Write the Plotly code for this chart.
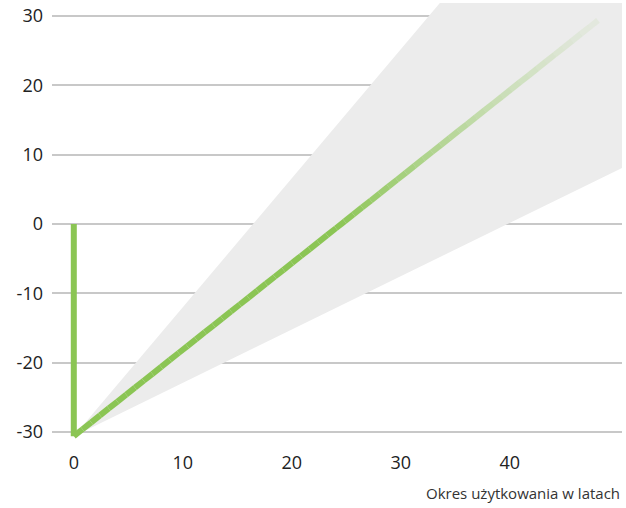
import numpy as np
import plotly.graph_objects as go

# data
line_years = [0, 0, 48.1]
line_values = [0, -30.6, 29.4]
cone_years = [0, 50.3]
cone_upper = [-30.6, 63.0]
cone_lower = [-30.6, 8.1]
x_ticks = [0, 10, 20, 30, 40]
y_ticks = [-30, -20, -10, 0, 10, 20, 30]
y_tick_labels = ["-30", "-20", "-10", "0", "10", "20", "30"]
x_title = "Okres użytkowania w latach"

GREEN = (139, 197, 84)

fig = go.Figure()

# uncertainty cone
fig.add_trace(go.Scatter(
    x=cone_years + cone_years[::-1],
    y=cone_upper + cone_lower[::-1],
    fill="toself", fillcolor="rgb(236,236,236)",
    line=dict(width=0), mode="lines", hoverinfo="skip", showlegend=False,
))

# vertical initial investment segment
fig.add_trace(go.Scatter(
    x=line_years[:2], y=line_values[:2], mode="lines",
    line=dict(color="rgb(%d,%d,%d)" % GREEN, width=6),
    showlegend=False,
))

# diagonal segment with fading toward the end
x0, x1 = line_years[1], line_years[2]
y0, y1 = line_values[1], line_values[2]
n = 60
ts = np.linspace(0, 1, n + 1)
fade_start = 0.5
for i in range(n):
    ta, tb = ts[i], ts[i + 1]
    tm = (ta + tb) / 2
    if tm <= fade_start:
        a = 1.0
    else:
        a = max(0.0, 1 - (tm - fade_start) / (1 - fade_start)) ** 1.2
        a = 0.08 + 0.92 * a
    fig.add_trace(go.Scatter(
        x=[x0 + (x1 - x0) * ta, x0 + (x1 - x0) * tb],
        y=[y0 + (y1 - y0) * ta, y0 + (y1 - y0) * tb],
        mode="lines",
        line=dict(color="rgba(%d,%d,%d,%.3f)" % (*GREEN, a), width=6),
        showlegend=False, hoverinfo="skip",
    ))

fig.update_layout(
    width=626, height=508,
    margin=dict(l=52, r=4, t=3, b=68, autoexpand=False),
    paper_bgcolor="white", plot_bgcolor="white",
    font=dict(family="Open Sans", size=18, color="#222"),
    xaxis=dict(range=[-2.0, 50.3], tickvals=x_ticks, showgrid=False,
               zeroline=False, showline=False, ticks="",
               ticklabelstandoff=10, automargin=False),
    yaxis=dict(range=[-31.15, 31.9], tickvals=y_ticks, ticktext=y_tick_labels,
               showgrid=True, gridcolor="#c8c8c8", gridwidth=1.5,
               zeroline=False, showline=False, ticks="",
               ticklabelstandoff=8, automargin=False),
    annotations=[dict(text=x_title, xref="paper", yref="paper", x=1.0, y=0,
                      xanchor="right", yanchor="middle", yshift=-53,
                      showarrow=False, font=dict(size=15, color="#333"))],
)

fig.write_html("out.html", config={"displayModeBar": False},
               post_script="document.body.style.margin='0';")
